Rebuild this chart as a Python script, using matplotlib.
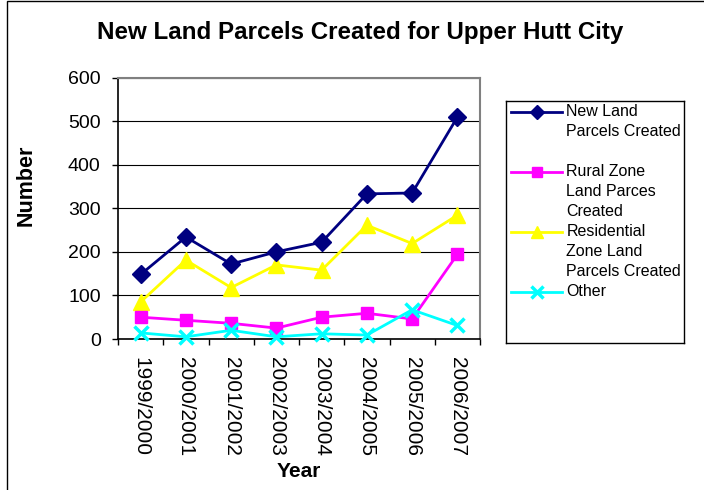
import numpy as np
import matplotlib
matplotlib.use("Agg")
import matplotlib.pyplot as plt
from matplotlib.patches import Rectangle

plt.rcParams['font.family'] = ['Liberation Sans', 'DejaVu Sans']

years = ["1999/2000", "2000/2001", "2001/2002", "2002/2003",
         "2003/2004", "2004/2005", "2005/2006", "2006/2007"]
new_land = [148, 234, 172, 200, 222, 333, 335, 509]
rural = [50, 43, 36, 25, 50, 59, 46, 194]
residential = [85, 181, 118, 170, 158, 261, 219, 284]
other = [14, 5, 20, 5, 12, 9, 67, 31]

series = [
    ("New Land\nParcels Created", new_land, "#000080", "D", 9, 3),
    ("Rural Zone\nLand Parces\nCreated", rural, "#FF00FF", "s", 9, 4),
    ("Residential\nZone Land\nParcels Created", residential, "#FFFF00", "^", 11, 2),
    ("Other", other, "#00FFFF", "x", 10, 5),
]

fig = plt.figure(figsize=(7.04, 4.90), dpi=100)
ax = fig.add_axes([118/704, 1-339/490, 362/704, 261.5/490])

x = np.arange(len(years))
for lab, vals, col, mk, ms, z in series:
    if mk == "x":
        ax.plot(x, vals, color=col, lw=2, marker=mk, ms=ms, mew=2.5, zorder=z, clip_on=False)
    else:
        ax.plot(x, vals, color=col, lw=2, marker=mk, ms=ms, mec=col, zorder=z, clip_on=False)

ax.set_xlim(-0.5, 7.5)
ax.set_ylim(0, 600)
ax.set_yticks(range(0, 601, 100))
ax.yaxis.grid(True, color="#000000", lw=0.8)
ax.set_axisbelow(True)
ax.tick_params(axis="y", labelsize=14, length=4.5, width=1, direction="out", pad=8)
ax.set_xticks(x)
ax.set_xticklabels(years, rotation=270, fontsize=15, va="top", ha="center")
ax.set_xticks(np.arange(-0.5, 8, 1), minor=True)
ax.tick_params(axis="x", which="major", length=0, pad=13)
ax.tick_params(axis="x", which="minor", length=4.5, width=1, direction="out")
for s in ["top", "right"]:
    ax.spines[s].set_color("#808080")
    ax.spines[s].set_linewidth(1.5)
for s in ["left", "bottom"]:
    ax.spines[s].set_color("#000000")
    ax.spines[s].set_linewidth(1.2)

fig.text(360/704, 1-33/490, "New Land Parcels Created for Upper Hutt City",
         fontsize=17.4, fontweight="bold", ha="center", va="center")
fig.text(26/704, 1-185/490, "Number", rotation=90, fontsize=15.5,
         fontweight="bold", ha="center", va="center")
fig.text(299/704, 1-471/490, "Year", fontsize=15, fontweight="bold",
         ha="center", va="center")

# legend box drawn by hand, y in pixels from its top
lax = fig.add_axes([506/704, 1-343/490, 178/704, 242/490])
lax.set_xlim(0, 178)
lax.set_ylim(242, 0)
lax.set_xticks([])
lax.set_yticks([])
for s in lax.spines.values():
    s.set_color("#000000")
    s.set_linewidth(1)
entry_y = [10.7, 70.7, 130.7, 190.7]
for (lab, vals, col, mk, ms, z), ey in zip(series, entry_y):
    lax.plot([5, 56], [ey, ey], color=col, lw=2)
    if mk == "x":
        lax.plot([30.5], [ey], color=col, marker=mk, ms=8, mew=2.5)
    else:
        lax.plot([30.5], [ey], color=col, marker=mk, ms=ms - 2, mec=col)
    for i, line in enumerate(lab.split("\n")):
        lax.text(60.5, ey + 20*i, line, fontsize=11.5, ha="left", va="center")

fig.patches.append(Rectangle((7/704, -0.1), 1.2, 1.1 - 1.5/490, transform=fig.transFigure,
                             fill=False, edgecolor="#000000", lw=1))

fig.savefig("out.png", dpi=100)
